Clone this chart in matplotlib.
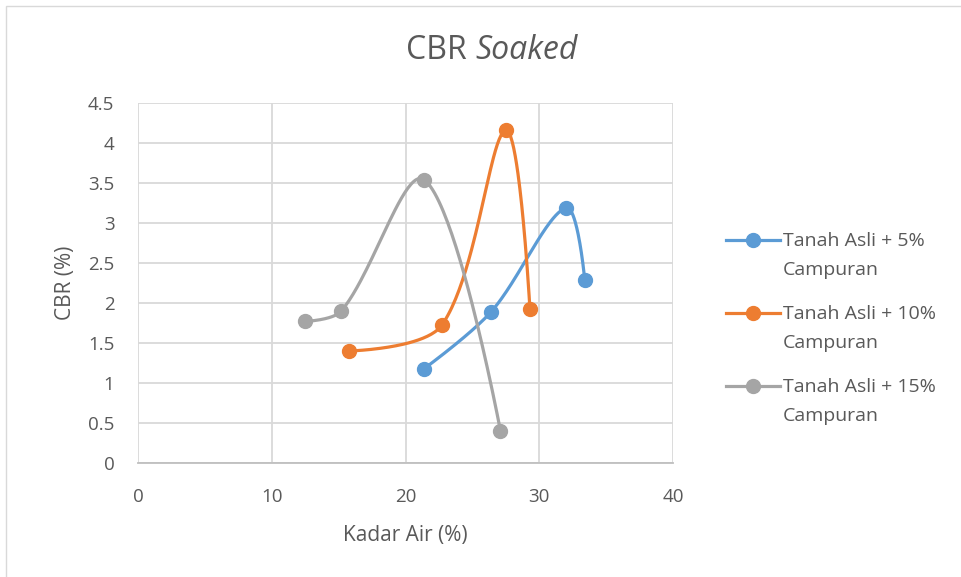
import numpy as np
import matplotlib
matplotlib.use("Agg")
import matplotlib.pyplot as plt
from matplotlib.patches import Rectangle
from matplotlib.lines import Line2D

plt.rcParams["font.family"] = ["Open Sans", "DejaVu Sans"]

# --- Данные ---
x_5 = [21.4, 26.4, 32.0, 33.4]
y_5 = [1.18, 1.89, 3.19, 2.29]
x_10 = [15.8, 22.7, 27.5, 29.3]
y_10 = [1.40, 1.72, 4.16, 1.93]
x_15 = [12.5, 15.2, 21.4, 27.1]
y_15 = [1.77, 1.90, 3.54, 0.40]
labels = [("Tanah Asli + 5%", "Campuran"),
          ("Tanah Asli + 10%", "Campuran"),
          ("Tanah Asli + 15%", "Campuran")]
colors = ["#5B9BD5", "#ED7D31", "#A5A5A5"]
TXT = "#595959"

XLIM = (0, 40)
YLIM = (0, 4.5)
SX, SY = 535 / 40, 360 / 4.5  # px на единицу, для сглаживания в экранных координатах


def smooth(xs, ys, n=50):
    # сглаживание в духе Excel: Безье, касательные взвешены длиной сегментов
    p = np.column_stack([np.array(xs) * SX, np.array(ys) * SY])
    m = len(p)
    out = []
    for i in range(m - 1):
        p1, p2 = p[i], p[i + 1]
        p0 = p[i - 1] if i > 0 else p1
        p3 = p[i + 2] if i + 2 < m else p2
        d01 = np.linalg.norm(p1 - p0)
        d12 = np.linalg.norm(p2 - p1)
        d23 = np.linalg.norm(p3 - p2)
        f1 = d12 / (d01 + d12) / 3 if d01 > 0 else 0
        f2 = d12 / (d12 + d23) / 3 if d23 > 0 else 0
        c1 = p1 + (p2 - p0) * f1
        c2 = p2 - (p3 - p1) * f2
        t = np.linspace(0, 1, n)[:, None]
        seg = (1 - t) ** 3 * p1 + 3 * (1 - t) ** 2 * t * c1 + 3 * (1 - t) * t ** 2 * c2 + t ** 3 * p2
        out.append(seg)
    s = np.vstack(out)
    return s[:, 0] / SX, s[:, 1] / SY


fig = plt.figure(figsize=(9.62, 5.77), dpi=100)
fig.patches.append(Rectangle((0.006, -0.01), 1.1, 1.0, transform=fig.transFigure,
                             fill=False, edgecolor="#D9D9D9", lw=1))
ax = fig.add_axes([0.1435, 0.1976, 0.5561, 0.6239])

series = [(x_5, y_5), (x_10, y_10), (x_15, y_15)]
for (xs, ys), c in zip(series, colors):
    sx, sy = smooth(xs, ys)
    ax.plot(sx, sy, color=c, lw=2.3, solid_capstyle="round", zorder=3)
    ax.plot(xs, ys, "o", color=c, ms=10, zorder=4)

ax.set_xlim(*XLIM)
ax.set_ylim(*YLIM)
ax.set_xticks([0, 10, 20, 30, 40])
ax.set_yticks(np.arange(0, 4.51, 0.5))
ax.set_yticklabels(["0", "0.5", "1", "1.5", "2", "2.5", "3", "3.5", "4", "4.5"])
ax.grid(True, color="#D9D9D9", lw=1.3)
ax.set_axisbelow(True)
for sp in ["top", "right", "left"]:
    ax.spines[sp].set_visible(False)
ax.spines["bottom"].set_color("#BFBFBF")
ax.spines["bottom"].set_linewidth(1.3)
ax.tick_params(length=0, labelsize=13.5, colors=TXT)
ax.tick_params(axis="x", pad=18)
ax.tick_params(axis="y", pad=17)

ax.set_xlabel("Kadar Air (%)", fontsize=15, color=TXT, labelpad=14)
ax.set_ylabel("CBR (%)", fontsize=15, color=TXT, labelpad=9)
fig.text(0.494, 0.912, "CBR ", fontsize=23, color=TXT, ha="right", va="center")
fig.text(0.494, 0.912, "Soaked", fontsize=23, color=TXT, style="italic", ha="left", va="center")

# Легенда вручную: маркер на уровне первой строки подписи
W, H = 962, 577
leg_y = [240, 313, 386]
for c, (l1, l2), yy in zip(colors, labels, leg_y):
    fig.add_artist(Line2D([726 / W, 780 / W], [1 - yy / H, 1 - yy / H], color=c, lw=2.3,
                          transform=fig.transFigure))
    fig.add_artist(Line2D([753 / W], [1 - yy / H], marker="o", ms=10, color=c,
                          transform=fig.transFigure))
    fig.text(783 / W, 1 - (yy + 1) / H, l1, fontsize=14, color=TXT, va="center")
    fig.text(783 / W, 1 - (yy + 30) / H, l2, fontsize=14, color=TXT, va="center")

plt.savefig("out.png", dpi=100)
